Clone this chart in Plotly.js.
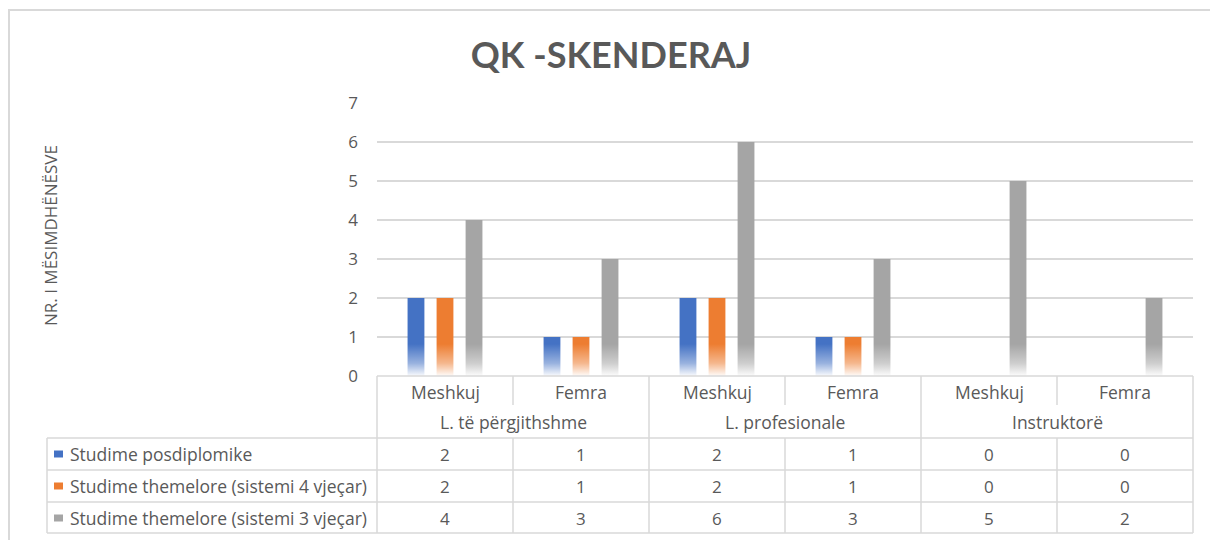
<!DOCTYPE html>
<html>
<head>
<meta charset="utf-8">
<script src="https://cdn.plot.ly/plotly-3.0.1.min.js"></script>
<style>html,body{margin:0;padding:0;background:#fff}#chart{width:1210px;height:540px}</style>
</head>
<body>
<div id="chart"></div>
<script>
// ---- data ----
const subCategories = ['Meshkuj', 'Femra', 'Meshkuj', 'Femra', 'Meshkuj', 'Femra'];
const groupCategories = ['L. të përgjithshme', 'L. të përgjithshme', 'L. profesionale', 'L. profesionale', 'Instruktorë', 'Instruktorë'];
const seriesNames = ['Studime posdiplomike', 'Studime themelore (sistemi 4 vjeçar)', 'Studime themelore (sistemi 3 vjeçar)'];
const posdiplomike = [2, 1, 2, 1, 0, 0];
const themelore4 = [2, 1, 2, 1, 0, 0];
const themelore3 = [4, 3, 6, 3, 5, 2];
const seriesColors = ['#4472C4', '#ED7D31', '#A5A5A5'];
const yTickValues = [0, 1, 2, 3, 4, 5, 6, 7];
const chartTitle = 'QK -SKENDERAJ';
const yTitle = 'NR. I MËSIMDHËNËSVE';

// ---- geometry helpers (pixel -> paper) ----
const W = 1210, H = 540;
const px = x => x / W;
const py = y => 1 - y / H;
const plotL = 377, plotR = 1193, plotTop = 103, plotBot = 376;
const FONT = '"Open Sans", Lato, sans-serif';
const TFONT = 'Lato, "Open Sans", sans-serif';
const TXT = '#595959';
const LINE = '#d9d9d9';
const LBL = 17.5;

const seriesValues = [posdiplomike, themelore4, themelore3];
const traces = seriesValues.map((vals, i) => ({
  type: 'bar',
  name: seriesNames[i],
  x: [groupCategories, subCategories],
  y: vals,
  marker: {color: seriesColors[i], line: {width: 0}},
  hoverinfo: 'skip'
}));

const shapes = [];
const annotations = [];
function hline(y, x0, x1) {
  shapes.push({type: 'line', xref: 'paper', yref: 'paper', x0: px(x0), x1: px(x1), y0: py(y), y1: py(y), line: {color: LINE, width: 1.5}});
}
function vline(x, y0, y1) {
  shapes.push({type: 'line', xref: 'paper', yref: 'paper', x0: px(x), x1: px(x), y0: py(y0), y1: py(y1), line: {color: LINE, width: 1.5}});
}
// outer chart frame
shapes.push({type: 'rect', xref: 'paper', yref: 'paper', x0: px(9), x1: px(1230), y0: py(10), y1: py(560), line: {color: '#d9d9d9', width: 2}, fillcolor: 'rgba(0,0,0,0)'});

const nCat = subCategories.length;
const colW = (plotR - plotL) / nCat;
const tableTop = 438, rowH = [470, 502, 533];
hline(plotBot, plotL, plotR);
hline(tableTop, 47, plotR);
rowH.forEach(y => hline(y, 47, plotR));
vline(47, tableTop, rowH[rowH.length - 1]);
for (let i = 0; i <= nCat; i++) {
  const x = plotL + i * colW;
  const groupBoundary = i === 0 || i === nCat || groupCategories[i] !== groupCategories[i - 1];
  if (groupBoundary) {
    vline(x, plotBot, rowH[rowH.length - 1]);
  } else {
    vline(x, plotBot, 405);
    vline(x, tableTop, rowH[rowH.length - 1]);
  }
}

// category labels (two levels)
subCategories.forEach((s, c) => {
  annotations.push({xref: 'paper', yref: 'paper', x: px(plotL + (c + 0.5) * colW), y: py(392), xanchor: 'center', yanchor: 'middle', showarrow: false, text: s, font: {family: FONT, size: LBL, color: TXT}});
});
let start = 0;
for (let i = 1; i <= nCat; i++) {
  if (i === nCat || groupCategories[i] !== groupCategories[start]) {
    const mid = plotL + ((start + i) / 2) * colW;
    annotations.push({xref: 'paper', yref: 'paper', x: px(mid), y: py(422), xanchor: 'center', yanchor: 'middle', showarrow: false, text: groupCategories[start], font: {family: FONT, size: LBL, color: TXT}});
    start = i;
  }
}

// data table
const rowCenters = [454, 486, 518];
seriesValues.forEach((vals, r) => {
  shapes.push({type: 'rect', xref: 'paper', yref: 'paper', x0: px(54), x1: px(63), y0: py(rowCenters[r] + 3.5), y1: py(rowCenters[r] - 3.5), line: {width: 0}, fillcolor: seriesColors[r]});
  annotations.push({xref: 'paper', yref: 'paper', x: px(68), y: py(rowCenters[r]), xanchor: 'left', yanchor: 'middle', showarrow: false, text: seriesNames[r], font: {family: FONT, size: LBL, color: TXT}});
  vals.forEach((v, c) => {
    annotations.push({xref: 'paper', yref: 'paper', x: px(plotL + (c + 0.5) * colW), y: py(rowCenters[r]), xanchor: 'center', yanchor: 'middle', showarrow: false, text: String(v), font: {family: FONT, size: 17, color: TXT}});
  });
});

// y-axis title
annotations.push({xref: 'paper', yref: 'paper', x: px(50), y: py(236), textangle: -90, showarrow: false, xanchor: 'center', yanchor: 'middle', text: yTitle, font: {family: FONT, size: 17, color: TXT}});

// gradient fade at the bars' base
const gradSvg = '<svg xmlns="http://www.w3.org/2000/svg" viewBox="0 0 10 100" width="10" height="100" preserveAspectRatio="none"><defs><linearGradient id="g" x1="0" y1="0" x2="0" y2="1"><stop offset="0" stop-color="#ffffff" stop-opacity="0"/><stop offset="0.6" stop-color="#ffffff" stop-opacity="0.45"/><stop offset="1" stop-color="#ffffff" stop-opacity="0.97"/></linearGradient></defs><rect x="0" y="0" width="10" height="100" fill="url(#g)"/></svg>';
const images = [{
  source: 'data:image/svg+xml;charset=utf-8,' + encodeURIComponent(gradSvg),
  xref: 'paper', yref: 'paper', x: px(plotL + 1), y: py(plotBot - 32), sizex: px(plotR - plotL - 2), sizey: 32 / H,
  xanchor: 'left', yanchor: 'top', sizing: 'stretch', layer: 'above'
}];

const layout = {
  width: W, height: H,
  margin: {l: 0, r: 0, t: 0, b: 0},
  paper_bgcolor: '#ffffff', plot_bgcolor: '#ffffff',
  showlegend: false,
  barmode: 'group', bargap: 0.36, bargroupgap: 0.42,
  title: {text: chartTitle, x: px(611), xanchor: 'center', y: py(55), yanchor: 'middle', yref: 'paper', font: {family: TFONT, size: 36, color: TXT, weight: 'bold'}},
  xaxis: {
    type: 'multicategory', domain: [px(plotL), px(plotR)],
    showgrid: false, zeroline: false, showline: false, ticks: '',
    showdividers: false, showticklabels: false
  },
  yaxis: {
    domain: [py(plotBot), py(plotTop)], range: [0, 7],
    tickvals: yTickValues, showgrid: true, gridcolor: LINE, gridwidth: 1.5,
    zeroline: false, showline: false, ticks: '', ticklabelstandoff: 18,
    tickfont: {family: FONT, size: 17, color: TXT}
  },
  shapes: shapes, annotations: annotations, images: images
};
Plotly.newPlot('chart', traces, layout, {displayModeBar: false, staticPlot: true});
</script>
</body>
</html>
